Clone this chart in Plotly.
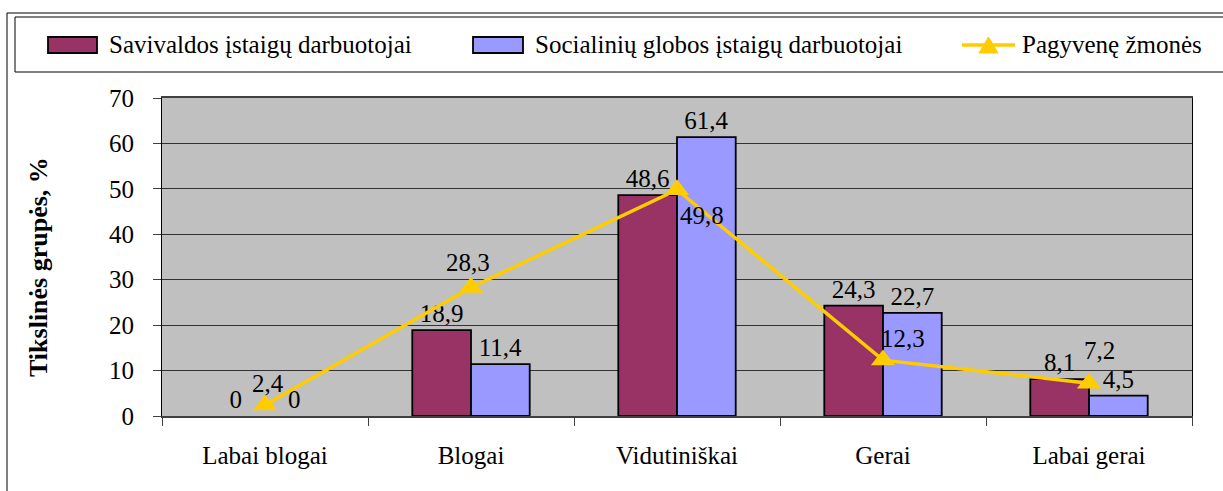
import plotly.graph_objects as go

# ---------------- data ----------------
categories = ["Labai blogai", "Blogai", "Vidutiniškai", "Gerai", "Labai gerai"]
savivaldos = [0, 18.9, 48.6, 24.3, 8.1]
socialiniu = [0, 11.4, 61.4, 22.7, 4.5]
pagyvene = [2.4, 28.3, 49.8, 12.3, 7.2]
series_names = ["Savivaldos įstaigų darbuotojai",
                "Socialinių globos įstaigų darbuotojai",
                "Pagyvenę žmonės"]
y_title = "Tikslinės grupės, %"
y_ticks = [0, 10, 20, 30, 40, 50, 60, 70]

# ---------------- styles ----------------
W, H = 1223, 491
L, R, T, B = 162, 1192, 98, 416
FONT = "Liberation Serif"
FS = 25
C_SAV = "#993366"
C_SOC = "#9999FF"
C_LINE = "#FFCC00"
# label offsets (px) for line labels: (xshift, yshift up)
line_label_shift = [(3, 22), (-3, 25), (25, -26), (20, 22), (10, 33)]


def lt(v):
    return f"{v:g}".replace(".", ",")


def px(x):
    return (x - L) / (R - L)


def py(y):
    return (B - y) / (B - T)


def edge_widths(vals):
    return [1.8 if v > 0 else 0 for v in vals]


fig = go.Figure()
fig.add_trace(go.Bar(
    x=categories, y=savivaldos, name=series_names[0],
    marker=dict(color=C_SAV, line=dict(color="black", width=edge_widths(savivaldos))),
    text=[lt(v) for v in savivaldos], textposition="outside",
    textfont=dict(family=FONT, size=FS, color="black"),
    constraintext="none", cliponaxis=False, showlegend=False))
fig.add_trace(go.Bar(
    x=categories, y=socialiniu, name=series_names[1],
    marker=dict(color=C_SOC, line=dict(color="black", width=edge_widths(socialiniu))),
    text=[lt(v) for v in socialiniu], textposition="outside",
    textfont=dict(family=FONT, size=FS, color="black"),
    constraintext="none", cliponaxis=False, showlegend=False))
fig.add_trace(go.Scatter(
    x=categories, y=pagyvene, name=series_names[2], mode="lines+markers",
    line=dict(color=C_LINE, width=3.5),
    marker=dict(symbol="triangle-up", size=21, color=C_LINE),
    cliponaxis=False, showlegend=False))

annotations = []
for c, v, (dx, dy) in zip(categories, pagyvene, line_label_shift):
    annotations.append(dict(x=c, y=v, xref="x", yref="y", text=lt(v),
                            showarrow=False, xshift=dx, yshift=dy,
                            font=dict(family=FONT, size=FS, color="black")))

# y-axis title
annotations.append(dict(x=px(38), y=py(267), xref="paper", yref="paper",
                        text=f"<b>{y_title}</b>", textangle=-90, showarrow=False,
                        xanchor="center", yanchor="middle",
                        font=dict(family=FONT, size=26, color="black")))

shapes = []
# outer frame
shapes.append(dict(type="rect", xref="paper", yref="paper",
                   x0=px(7), x1=px(1260), y0=py(13), y1=py(520),
                   line=dict(color="black", width=1), fillcolor="rgba(0,0,0,0)", layer="below"))
# legend box
shapes.append(dict(type="rect", xref="paper", yref="paper",
                   x0=px(15), x1=px(1260), y0=py(17), y1=py(72),
                   line=dict(color="black", width=1), fillcolor="white", layer="below"))
# legend swatches
for (x0, x1), col, name, tx in [((48, 97), C_SAV, series_names[0], 107),
                                 ((473, 523), C_SOC, series_names[1], 533)]:
    shapes.append(dict(type="rect", xref="paper", yref="paper",
                       x0=px(x0), x1=px(x1), y0=py(37), y1=py(53),
                       line=dict(color="black", width=1.8), fillcolor=col))
    annotations.append(dict(x=px(tx), y=py(45), xref="paper", yref="paper",
                            text=name, showarrow=False, xanchor="left", yanchor="middle",
                            font=dict(family=FONT, size=FS, color="black")))
shapes.append(dict(type="line", xref="paper", yref="paper",
                   x0=px(962), x1=px(1015), y0=py(45), y1=py(45),
                   line=dict(color=C_LINE, width=3.5)))
shapes.append(dict(type="path", xref="paper", yref="paper",
                   path=f"M {px(979)},{py(53)} L {px(998)},{py(53)} L {px(988.5)},{py(37)} Z",
                   line=dict(color=C_LINE, width=1), fillcolor=C_LINE))
annotations.append(dict(x=px(1020), y=py(45), xref="paper", yref="paper",
                        text=series_names[2], showarrow=False, xanchor="left", yanchor="middle",
                        font=dict(family=FONT, size=FS, color="black")))

fig.update_layout(
    width=W, height=H,
    margin=dict(l=L, r=W - R, t=T, b=H - B, pad=0),
    paper_bgcolor="white", plot_bgcolor="#C0C0C0",
    barmode="group", bargap=0.43, bargroupgap=0,
    font=dict(family=FONT, size=FS, color="black"),
    annotations=annotations, shapes=shapes,
    showlegend=False,
)
fig.update_xaxes(
    showgrid=False, showline=True, linecolor="#404040", linewidth=1.5, mirror=True,
    ticks="outside", tickson="boundaries", ticklen=8, tickcolor="#404040",
    ticklabelstandoff=16,
    tickfont=dict(family=FONT, size=FS, color="black"))
fig.update_yaxes(
    range=[0, 70], tickvals=y_ticks, ticktext=[str(t) for t in y_ticks],
    showgrid=True, gridcolor="#333333", gridwidth=1,
    showline=True, linecolor="black", linewidth=1, mirror=True,
    ticks="outside", ticklen=8, tickcolor="#404040", ticklabelstandoff=14,
    zeroline=False,
    tickfont=dict(family=FONT, size=FS, color="black"))

fig.write_html("out.html", config={"displayModeBar": False},
               post_script="document.body.style.margin='0px';document.body.style.padding='0px';")
